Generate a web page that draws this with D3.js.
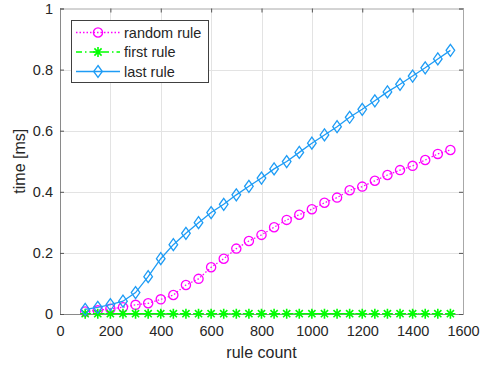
<!DOCTYPE html>
<html>
<head>
<meta charset="utf-8">
<script src="https://cdn.jsdelivr.net/npm/d3@7"></script>
<style>
  html, body { margin: 0; padding: 0; background: #fff; }
  svg { display: block; font-family: "Liberation Sans", Arial, sans-serif; }
</style>
</head>
<body>
<svg id="chart"></svg>
<script>
const ruleCount = [100, 150, 200, 250, 300, 350, 400, 450, 500, 550, 600, 650, 700, 750, 800,
  850, 900, 950, 1000, 1050, 1100, 1150, 1200, 1250, 1300, 1350, 1400, 1450, 1500, 1550];
const randomRule = [0.008, 0.012, 0.017, 0.022, 0.030, 0.035, 0.048, 0.062, 0.095, 0.115, 0.153, 0.181,
  0.214, 0.239, 0.259, 0.284, 0.308, 0.325, 0.343, 0.364, 0.381, 0.405, 0.417, 0.436, 0.455,
  0.471, 0.485, 0.504, 0.524, 0.537];
const firstRule = [0.001, 0.001, 0.001, 0.001, 0.001, 0.001, 0.001, 0.001, 0.001, 0.001, 0.001, 0.001,
  0.001, 0.001, 0.001, 0.001, 0.001, 0.001, 0.001, 0.001, 0.001, 0.001, 0.001, 0.001, 0.001,
  0.001, 0.001, 0.001, 0.001, 0.001];
const lastRule = [0.015, 0.022, 0.031, 0.042, 0.070, 0.122, 0.181, 0.227, 0.264, 0.299, 0.332, 0.359,
  0.390, 0.418, 0.445, 0.475, 0.499, 0.529, 0.559, 0.586, 0.613, 0.644, 0.670, 0.698, 0.727,
  0.752, 0.779, 0.806, 0.835, 0.863];
const xTicks = [0, 200, 400, 600, 800, 1000, 1200, 1400, 1600];
const yTicks = [0, 0.2, 0.4, 0.6, 0.8, 1];

const width = 484, height = 366;
const mLeft = 60, mRight = 463, mTop = 8.5, mBottom = 314;
const textColor = '#262626';

const svg = d3.select('#chart').attr('width', width).attr('height', height);

const x = d3.scaleLinear().domain([0, 1600]).range([mLeft, mRight]);
const y = d3.scaleLinear().domain([0, 1]).range([mBottom, mTop]);

// grid
const grid = svg.append('g').attr('stroke', '#e3e3e3').attr('stroke-width', 1);
grid.selectAll('.gx').data(xTicks.slice(1, -1)).enter().append('line')
  .attr('x1', d => Math.round(x(d)) + 0.5).attr('x2', d => Math.round(x(d)) + 0.5)
  .attr('y1', mTop).attr('y2', mBottom);
grid.selectAll('.gy').data(yTicks.slice(1, -1)).enter().append('line')
  .attr('y1', d => Math.round(y(d)) + 0.5).attr('y2', d => Math.round(y(d)) + 0.5)
  .attr('x1', mLeft).attr('x2', mRight);

// axes (MATLAB box style, inward ticks on all sides)
const axisColor = '#8a8a8a';
const xAxisB = svg.append('g').attr('transform', `translate(0,${mBottom})`)
  .call(d3.axisBottom(x).tickValues(xTicks).tickSize(-4).tickPadding(11.5).tickFormat(d3.format('d')));
const xAxisT = svg.append('g').attr('transform', `translate(0,${mTop})`)
  .call(d3.axisTop(x).tickValues(xTicks).tickSize(-4).tickFormat(''));
const yAxisL = svg.append('g').attr('transform', `translate(${mLeft},0)`)
  .call(d3.axisLeft(y).tickValues(yTicks).tickSize(-4).tickPadding(7).tickFormat(d3.format('~g')));
const yAxisR = svg.append('g').attr('transform', `translate(${mRight},0)`)
  .call(d3.axisRight(y).tickValues(yTicks).tickSize(-4).tickFormat(''));

[xAxisB, xAxisT, yAxisL, yAxisR].forEach(a => {
  a.select('.domain').attr('stroke', axisColor);
  a.selectAll('.tick line').attr('stroke', '#555');
  a.selectAll('.tick text').attr('fill', textColor).style('font-size', '14.5px')
    .style('font-family', '"Liberation Sans", Arial, sans-serif');
});
xAxisT.select('.domain').attr('stroke', '#a8a8a8');
yAxisR.select('.domain').attr('stroke', '#a8a8a8');

// axis labels
svg.append('text').attr('x', (mLeft + mRight) / 2).attr('y', 357.5)
  .attr('text-anchor', 'middle').attr('fill', textColor).style('font-size', '16px')
  .text('rule count');
svg.append('text')
  .attr('transform', `translate(25,${(mTop + mBottom) / 2}) rotate(-90)`)
  .attr('text-anchor', 'middle').attr('fill', textColor).style('font-size', '16px')
  .text('time [ms]');

// markers
function circleMark(g, color) {
  g.append('circle').attr('r', 4.6).attr('fill', 'none').attr('stroke', color).attr('stroke-width', 1.3);
}
function starMark(g, color) {
  const r = 5, d = r * 0.72;
  g.append('path')
    .attr('d', `M${-r},0H${r}M0,${-r}V${r}M${-d},${-d}L${d},${d}M${-d},${d}L${d},${-d}`)
    .attr('stroke', color).attr('stroke-width', 1.6).attr('fill', 'none');
}
function diamondMark(g, color) {
  g.append('path').attr('d', 'M0,-6L4.3,0L0,6L-4.3,0Z')
    .attr('fill', 'none').attr('stroke', color).attr('stroke-width', 1.3);
}

const series = [
  { name: 'random rule', values: randomRule, color: '#ff00ff', dash: '1.5,2', mark: circleMark },
  { name: 'first rule', values: firstRule, color: '#00ff00', dash: '6,3,1.5,3', mark: starMark },
  { name: 'last rule', values: lastRule, color: '#1e9cf5', dash: null, mark: diamondMark }
];

const line = d3.line().x(d => x(d[0])).y(d => y(d[1]));
const plot = svg.append('g');

series.forEach(s => {
  const pts = ruleCount.map((c, i) => [c, s.values[i]]);
  plot.append('path').datum(pts).attr('d', line)
    .attr('fill', 'none').attr('stroke', s.color).attr('stroke-width', 1.3)
    .attr('stroke-dasharray', s.dash);
  plot.selectAll(null).data(pts).enter().append('g')
    .attr('transform', d => `translate(${x(d[0])},${y(d[1])})`)
    .each(function () { s.mark(d3.select(this), s.color); });
});

// legend
const legend = svg.append('g');
legend.append('rect').attr('x', 71.5).attr('y', 20.5).attr('width', 137).attr('height', 62)
  .attr('fill', '#fff').attr('stroke', '#404040').attr('stroke-width', 1);
const rowY = [32.5, 52, 71.5];
series.forEach((s, i) => {
  legend.append('line').attr('x1', 76).attr('x2', 120).attr('y1', rowY[i]).attr('y2', rowY[i])
    .attr('stroke', s.color).attr('stroke-width', 1.3).attr('stroke-dasharray', s.dash);
  const m = legend.append('g').attr('transform', `translate(98,${rowY[i]})`);
  s.mark(m, s.color);
  legend.append('text').attr('x', 124).attr('y', rowY[i] + 5).attr('fill', textColor)
    .style('font-size', '14.5px').text(s.name);
});
</script>
</body>
</html>
